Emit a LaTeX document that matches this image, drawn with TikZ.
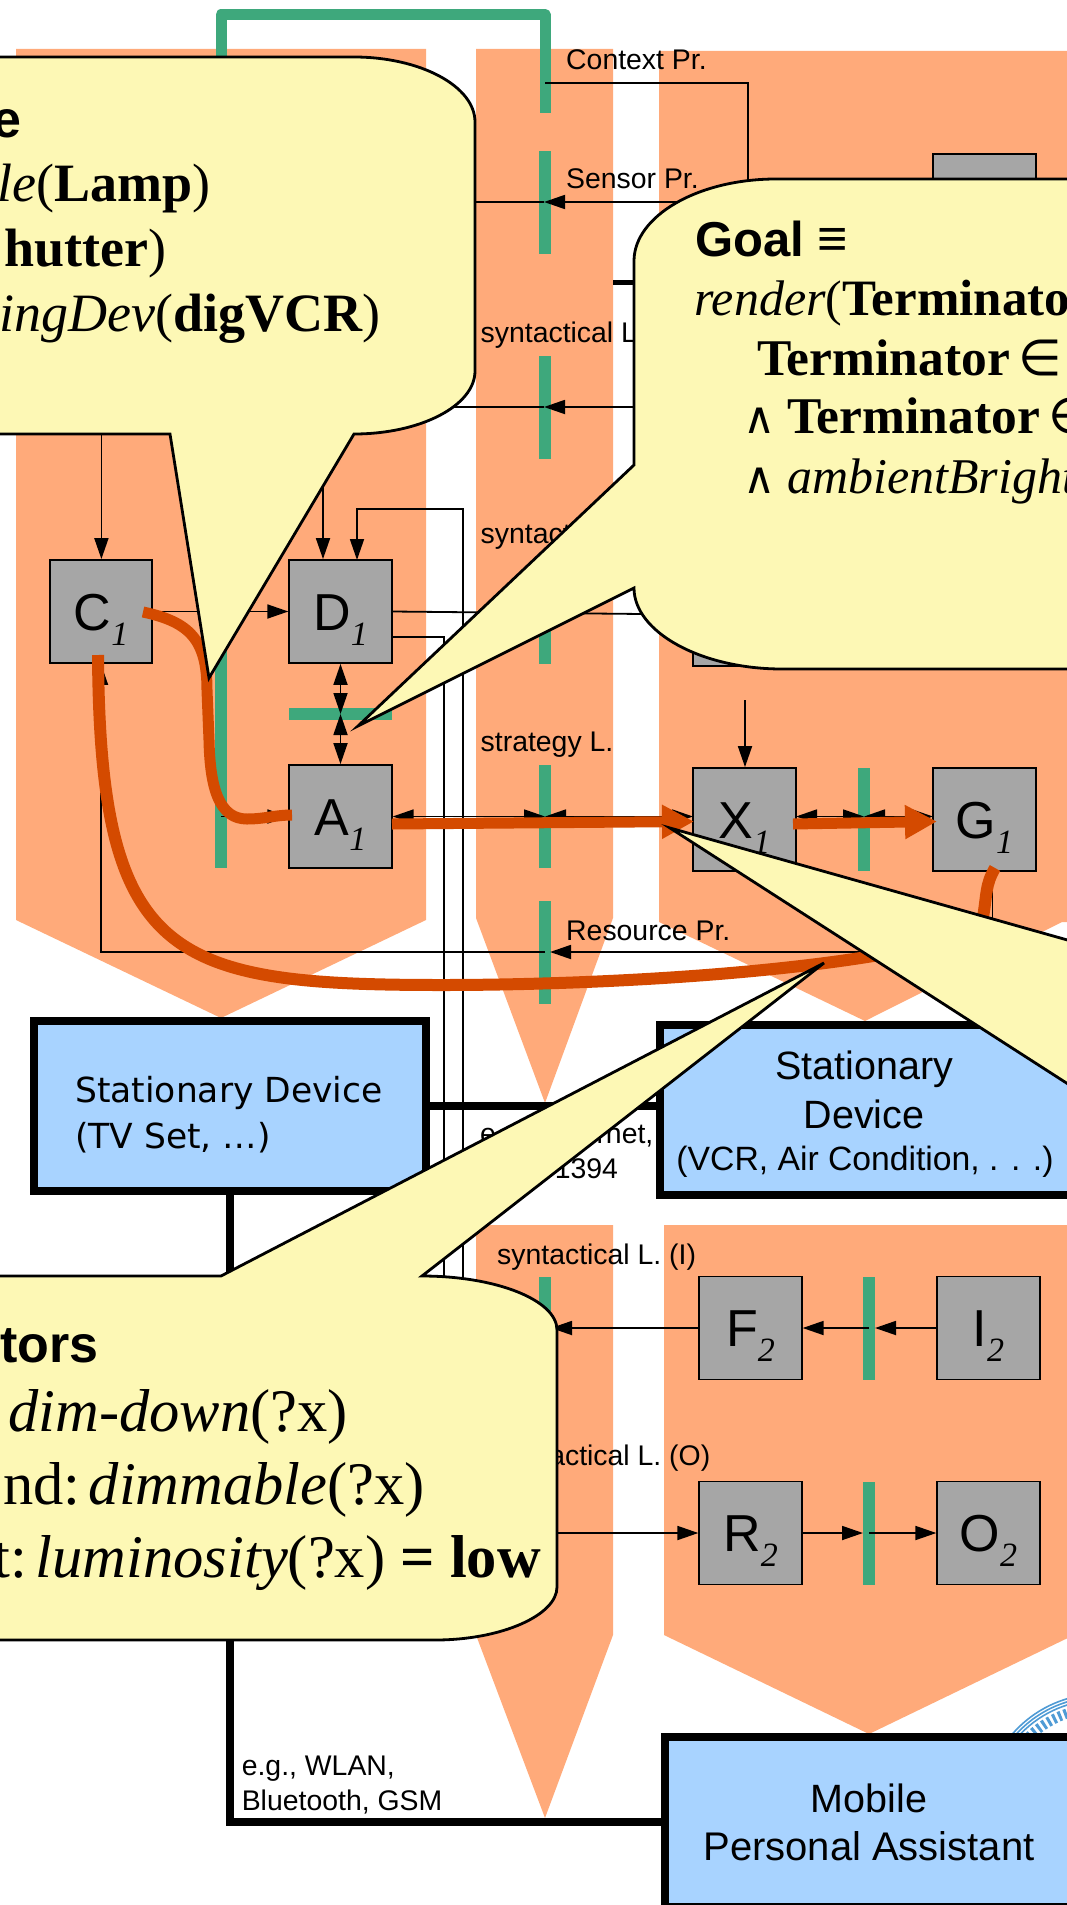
\documentclass[tikz,border=0pt]{standalone}
\usepackage{fontspec}
\setmainfont{Liberation Serif}
\setsansfont{Liberation Sans}
\newfontfamily\arialf{Liberation Sans}
\newfontfamily\timesf{Liberation Serif}
\newfontfamily\dejaf{DejaVu Sans}
\usetikzlibrary{arrows.meta}
\newcommand\fs[1]{\fontsize{#1}{#1}\selectfont}
\newcommand\gsub[1]{\raisebox{-15pt}{\timesf\itshape\fs{34}#1}}
\definecolor{colband}{HTML}{FFAA7A}
\definecolor{barg}{HTML}{3EA87C}
\definecolor{pathor}{HTML}{D44A00}
\definecolor{boxgr}{HTML}{A6A6A6}
\definecolor{devbl}{HTML}{A8D3FF}
\definecolor{callye}{HTML}{FDF8B5}
\definecolor{sealb}{HTML}{4F9BD5}
\tikzset{
  band/.style={fill=colband,draw=none},
  vbar/.style={fill=barg,draw=none,minimum width=12pt,minimum height=103pt,inner sep=0pt},
  hbar/.style={fill=barg,draw=none,minimum width=103pt,minimum height=12pt,inner sep=0pt},
  gbox/.style={fill=boxgr,draw=black,line width=1.8pt,minimum width=102.5pt,minimum height=103pt,inner sep=0pt,
     text height=37.5pt,text depth=0pt,font=\arialf\fs{52}},
  devbox/.style={fill=devbl,draw=black,line width=8pt,inner sep=0pt},
  netline/.style={draw=black,line width=8pt},
  conn/.style={draw=black,line width=1.8pt},
  tip/.style={conn,-{Triangle[length=21pt,width=14pt]}},
  tiptwo/.style={conn,{Triangle[length=21pt,width=14pt]}-{Triangle[length=21pt,width=14pt]}},
  flow/.style={draw=pathor,line width=12pt},
  flowtip/.style={draw=pathor,line width=11pt,-{Triangle[length=32pt,width=32pt]}},
  bubble/.style={fill=callye,draw=black,line width=2.8pt,line join=miter},
  lbl/.style={anchor=base west,inner sep=0pt,font=\arialf\fs{28.4}},
  devt/.style={anchor=base,inner sep=0pt,font=\arialf\fs{39.5}},
  btx/.style={anchor=base east,inner sep=0pt,font=\timesf\fs{54}},
  gtx/.style={anchor=base west,inner sep=0pt,font=\timesf\fs{50}},
  otx/.style={anchor=base east,inner sep=0pt,font=\timesf\fs{60.5}},
}
\begin{document}
\begin{tikzpicture}[x=1pt,y=-1pt]
\useasboundingbox (0,0) rectangle (1067,1905);
\clip (0,0) rectangle (1067,1905);
% colour bands
\fill[band] (16,49) -- (426,49) -- (426,920) -- (221,1018) -- (16,920) -- cycle;
\fill[band] (476,49) -- (613,49) -- (613,918) -- (545,1103) -- (476,918) -- cycle;
\fill[band] (659,51) -- (1070,51) -- (1070,922) -- (1062,922) -- (865,1021) -- (659,922) -- cycle;
\fill[band] (476,1225) -- (613,1225) -- (613,1635) -- (545,1818) -- (476,1635) -- cycle;
\fill[band] (664,1225) -- (1074,1225) -- (1074,1635) -- (869,1734) -- (664,1635) -- cycle;
% seal
\draw[sealb,line width=1.6pt] (1100,1810) circle (116) (1100,1810) circle (113) (1100,1810) circle (110);
\draw[sealb,line width=10pt,dash pattern=on 3pt off 3pt] (1100,1810) circle (102);
% green bars
\draw[barg,line width=11pt,line join=round] (221,70) -- (221,14.5) -- (545,14.5) -- (545,113);
\node[vbar] (bSens) at (545,202.5) {};
\node[vbar] (bSynA) at (545,407.5) {};
\node[vbar] (bSynB) at (545,612) {};
\node[vbar] (bStra) at (545,816.5) {};
\node[vbar] (bRes) at (545,952) {};
\node[vbar] (bSynI) at (545,1328) {};
\node[vbar] (bSynO) at (545,1533) {};
\node[vbar,minimum height=228pt] (bLeft) at (221,754) {};
\node[hbar] (bMid) at (340.5,714) {};
\node[vbar] (bRight) at (864,819.5) {};
\node[vbar] (bF) at (869,1328) {};
\node[vbar] (bR) at (869,1533) {};
% gray boxes
\node[gbox] (C1) at (101,611.5) {C\gsub{1}};
\node[gbox] (D1) at (340.5,611.5) {D\gsub{1}};
\node[gbox] (A1) at (340.5,816.5) {A\gsub{1}};
\node[gbox] (X1) at (744.5,819.5) {X\gsub{1}};
\node[gbox] (G1) at (984.5,819.5) {G\gsub{1}};
\node[gbox] (Top) at (984.5,205.5) {};
\node[gbox] (Mid) at (744.5,614.5) {};
\node[gbox] (F2) at (750.5,1328) {F\gsub{2}};
\node[gbox] (I2) at (988.5,1328) {I\gsub{2}};
\node[gbox] (R2) at (750.5,1533) {R\gsub{2}};
\node[gbox] (O2) at (988.5,1533) {O\gsub{2}};
% free ends
\coordinate (xTop) at (745,700);
\coordinate (dTop) at (323,434);
\coordinate (cTop) at (101.4,434);
\coordinate (lowA) at (444,1290);
\coordinate (lowB) at (463,1290);
% thin connectors
\draw[conn] (bSens.north |- 0,83) -- (748,83) -- (748,205) -- (Top.west);
\draw[tip] (748,202) -- (544,202);
\draw[conn] (544,202) -- (440,202);
\draw[tip] (700,407) -- (544,407);
\draw[conn] (544,407) -- (440,407);
\draw[tip] (cTop) -- (cTop |- C1.north);
\draw[tip] (dTop) -- (dTop |- D1.north);
\draw[tip] (lowB) -- (463,509) -- (357,509) -- (357,560);
\draw[conn] (392,637) -- (444,637) -- (lowA);
\draw[conn] (D1.east) -- (Mid.west);
\draw[tip] (C1.east) -- (D1.west);
\draw[tiptwo] (D1.south) -- (bMid.center);
\draw[tiptwo] (bMid.center) -- (A1.north);
\draw[tiptwo] (A1.east) -- (bStra.center);
\draw[tiptwo] (bStra.center) -- (693,816.5);
\draw[tiptwo] (796,816.5) -- (bRight.center |- 0,816.5);
\draw[tiptwo] (bRight.center |- 0,816.5) -- (933,816.5);
\draw[tip] (bLeft.center |- 0,816.5) -- (A1.west);
\draw[tip] (xTop) -- (xTop |- X1.north);
\draw[tip] (992.5,871) -- (992.5,952) -- (550,952);
\draw[tip] (bRes.center) -- (101,952) -- (C1.south);
\draw[tip] (F2.west) -- (551,1328);
\draw[tip] (I2.west) -- (875,1328);
\draw[tip] (869,1328) -- (F2.east);
\draw[conn] (551,1533) -- (bSynO.center);
\draw[tip] (bSynO.center) -- (R2.west);
\draw[tip] (R2.east) -- (863,1533);
\draw[tip] (869,1533) -- (O2.west);
% thick top stub
\draw[black,line width=5pt] (613,282) -- (660,282);
% labels
\node[lbl] (lCtx) at (566,70) {Context Pr.};
\node[lbl] (lSens) at (566,188.6) {Sensor Pr.};
\node[lbl] (lSynA) at (480.5,342) {syntactical L. (I)};
\node[lbl] (lSynB) at (480.5,543.7) {syntactical L. (O)};
\node[lbl] (lStra) at (480.5,751) {strategy L.};
\node[lbl] (lRes) at (566,940) {Resource Pr.};
\node[lbl] (lSynI) at (497,1264.5) {syntactical L. (I)};
\node[lbl] (lSynO) at (497,1465) {syntactical L. (O)};
\node[lbl] (lEth) at (480,1143) {e.g. Ethernet,};
\node[lbl] (lIee) at (482,1178) {IEEE 1394};
\node[lbl] (lWl) at (241.6,1775) {e.g., WLAN,};
\node[lbl] (lBt) at (241.6,1810) {Bluetooth, GSM};
% devices
\node[devbox,minimum width=392.5pt,minimum height=170pt] (tv) at (230,1106) {};
\node[devbox,minimum width=415pt,minimum height=170pt] (vcr) at (867.5,1110) {};
\node[devbox,minimum width=410pt,minimum height=170pt] (mob) at (870,1822) {};
\draw[netline] (tv.east) -- (tv.east -| vcr.west);
\draw[netline] (tv.south) -- (tv.south |- mob.west) -- (mob.west);
\node[anchor=base west,inner sep=0pt,font=\dejaf\fs{34.5}] (tTv1) at (75,1102) {Stationary Device};
\node[anchor=base west,inner sep=0pt,font=\dejaf\fs{34.5}] (tTv2) at (75,1148) {(TV Set, …)};
\node[devt] (tV1) at (864,1079) {Stationary};
\node[devt] (tV2) at (864,1128) {Device};
\node[devt,font=\arialf\fs{33.7}] (tV3) at (865,1170.6) {(VCR, Air Condition, . . .)};
\node[devt] (tM1) at (869,1812) {Mobile};
\node[devt,font=\arialf\fs{40}] (tM2) at (869,1860) {Personal Assistant};
% flows
\draw[flow] (98,655) .. controls (100,960) and (170,985) .. (442,985)
  .. controls (570,985) and (740,977) .. (867,957)
  .. controls (940,945) and (975,935) .. (983,917)
  .. controls (987,895) and (985,885) .. (995,868);
\draw[flow,line width=11pt] (143,612) .. controls (190,622) and (207,640) .. (207,690)
  -- (209,740) .. controls (210,790) and (220,819) .. (247,819)
  .. controls (265,819) and (275,815) .. (292,815);
\draw[flowtip] (392,824) -- (694,821.5);
\draw[flowtip] (793,824) -- (937,821.5);
% callouts
\draw[bubble] (-20,57) -- (354,57) .. controls (420,57) and (475,86) .. (475,122) -- (475,371) .. controls (475,406) and (420,434) .. (354,434) -- (209,678) -- (170,434) -- (-20,434) -- cycle;
\draw[bubble] (1100,179) -- (776,179) .. controls (698,179) and (634,216) .. (634,261) -- (634,465) -- (358,726) -- (634,588) .. controls (634,632) and (701,669) .. (782,669) -- (1100,669) -- cycle;
\draw[bubble] (-20,1276) -- (221,1276) -- (824,963) -- (422,1276) .. controls (496,1276) and (557,1300) .. (557,1330) -- (557,1587) .. controls (557,1615) and (502,1640) .. (435,1640) -- (-20,1640) -- cycle;
\draw[bubble] (670,828) -- (1110,952) -- (1110,1111) -- cycle;
% callout texts
\node[btx,font=\arialf\bfseries\fs{52}] (c1a) at (22,138) {e};
\node[btx] (c1b) at (211,201) {\textit{le}(\textbf{Lamp})};
\node[btx] (c1c) at (167,266.3) {\textbf{hutter})};
\node[btx] (c1d) at (381,331.6) {\textit{ingDev}(\textbf{digVCR})};
\node[gtx,font=\arialf\bfseries\fs{49}] (g1) at (695,256) {Goal {\fs{52}≡}};
\node[gtx] (g2) at (694,315) {\textit{render}(\textbf{\fs{51}Terminato}};
\node[gtx] (g3) at (757,375) {\textbf{\fs{51.5}Terminator}\,{\dejaf ∈} \textit{A}};
\node[gtx] (g4) at (743,433.5) {\makebox[44pt][l]{\dejaf\fs{44}∧}\textbf{\fs{51.5}Terminator}\,{\dejaf ∈}};
\node[gtx] (g5) at (743,493) {\makebox[44pt][l]{\dejaf\fs{44}∧}\textit{ambientBright}};
\node[btx,font=\arialf\bfseries\fs{52}] (o1) at (98.7,1362) {tors};
\node[otx] (o2) at (348,1431.5) {\textit{dim-down}(?x)};
\node[otx] (o3) at (425,1504) {nd:\hspace{.14em}\textit{dimmable}(?x)};
\node[otx] (o4) at (541,1577) {t:\hspace{.14em}\textit{luminosity}(?x) \textbf{= low}};
\end{tikzpicture}
\end{document}
